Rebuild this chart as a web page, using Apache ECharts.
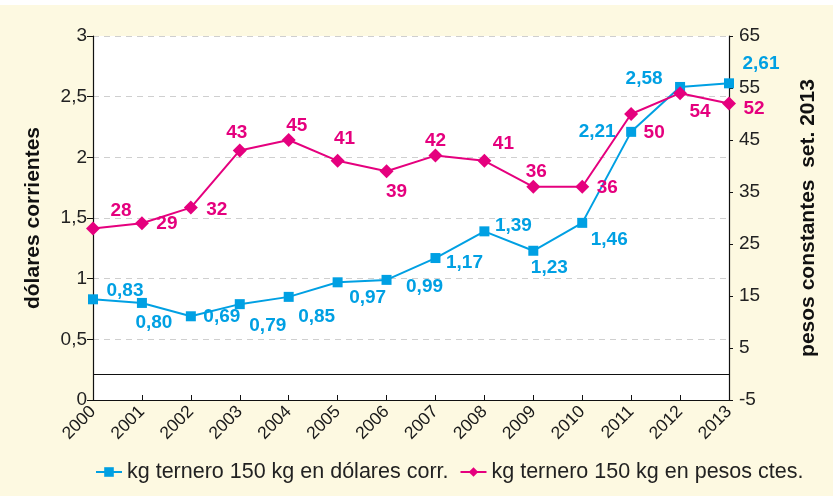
<!DOCTYPE html>
<html>
<head>
<meta charset="utf-8">
<script src="https://cdn.jsdelivr.net/npm/echarts@6/dist/echarts.min.js"></script>
<style>
html,body{margin:0;padding:0;background:#fdf9e1;}
#chart{width:833px;height:496px;}
</style>
</head>
<body>
<div id="chart"></div>
<script>
const years = ['2000','2001','2002','2003','2004','2005','2006','2007','2008','2009','2010','2011','2012','2013'];
const usdValues = [0.83,0.80,0.69,0.79,0.85,0.97,0.99,1.17,1.39,1.23,1.46,2.21,2.58,2.61];
const pesosValues = [28,29,32,43,45,41,39,42,41,36,36,50,54,52];
const usdSeriesName = 'kg ternero 150 kg en dólares corr.';
const pesosSeriesName = 'kg ternero 150 kg en pesos ctes.';
const leftAxisName = 'dólares corrientes';
const rightAxisName = 'pesos constantes  set. 2013';

// label placement offsets (styling only)
const usdLabelOffsets = [[32,-9],[12,20],[31,0],[28,22],[28,20],[30,15],[38,7],[29,5],[29,-6],[16,17],[27,17],[-34,0],[-36,-8],[32,-20]];
const pesosLabelOffsets = [[28,-18],[25,1],[26,2],[-3,-18],[8,-14],[7,-22],[10,21],[0,-15],[19,-17],[3,-15],[25,1],[23,19],[20,19],[25,5]];

const BLUE = '#00a0e3';
const PINK = '#e5007e';
const FONT = '"Liberation Sans", Arial, sans-serif';

const chart = echarts.init(document.getElementById('chart'));
const fmtComma = v => String(v).replace('.', ',');

chart.setOption({
  backgroundColor: '#fdf9e1',
  textStyle: {fontFamily: FONT},
  animation: false,
  graphic: [{type:'rect', shape:{x:0,y:0,width:833,height:5}, style:{fill:'#ffffff'}, silent:true}],
  grid: {left: 93, right: 104, top: 36, bottom: 96, show: true, backgroundColor: '#ffffff', borderWidth: 0},
  legend: {
    bottom: 8, left: 90,
    itemWidth: 26, itemHeight: 12, itemGap: 11,
    textStyle: {fontSize: 21.5, color: '#222', fontFamily: FONT},
    data: [usdSeriesName, pesosSeriesName]
  },
  xAxis: {
    type: 'category', data: years, boundaryGap: false,
    axisLine: {lineStyle: {color: '#111', width: 1.2}},
    axisTick: {inside: true, length: 5, lineStyle: {color: '#111'}},
    axisLabel: {rotate: 45, fontSize: 17.5, color: '#1a1a1a', margin: 9},
    splitLine: {show: false}
  },
  yAxis: [{
    type: 'value', min: 0, max: 3, interval: 0.5, position: 'left',
    name: leftAxisName, nameLocation: 'middle', nameGap: 49, nameRotate: 90,
    nameTextStyle: {fontSize: 21, fontWeight: 'bold', color: '#111'},
    axisLine: {show: true, lineStyle: {color: '#111', width: 1.2}},
    axisTick: {show: true, length: 6, lineStyle: {color: '#111'}},
    axisLabel: {fontSize: 19, color: '#222', margin: 6, formatter: fmtComma},
    splitLine: {show: true, lineStyle: {color: '#cfcfcf', type: [6,5], width: 1}}
  }, {
    type: 'value', min: -5, max: 65, interval: 10, position: 'right',
    name: rightAxisName, nameLocation: 'middle', nameGap: 69, nameRotate: 90,
    nameTextStyle: {fontSize: 21, fontWeight: 'bold', color: '#111'},
    axisLine: {show: true, lineStyle: {color: '#111', width: 1.2}},
    axisTick: {show: true, length: 4, lineStyle: {color: '#111'}},
    axisLabel: {fontSize: 19, color: '#222', margin: 10},
    splitLine: {show: false}
  }],
  series: [{
    name: usdSeriesName, type: 'line', yAxisIndex: 0,
    data: usdValues.map((v, i) => ({value: v, label: {offset: usdLabelOffsets[i]}})),
    symbol: 'rect', symbolSize: 10,
    lineStyle: {color: BLUE, width: 2},
    itemStyle: {color: BLUE},
    label: {show: true, position: 'inside', fontSize: 19, fontWeight: 'bold', color: BLUE,
      formatter: p => p.value.toFixed(2).replace('.', ',')},
    z: 3
  }, {
    name: pesosSeriesName, type: 'line', yAxisIndex: 1,
    data: pesosValues.map((v, i) => ({value: v, label: {offset: pesosLabelOffsets[i]}})),
    symbol: 'diamond', symbolSize: 14,
    lineStyle: {color: PINK, width: 2},
    itemStyle: {color: PINK},
    label: {show: true, position: 'inside', fontSize: 19, fontWeight: 'bold', color: PINK,
      formatter: p => String(p.value)},
    markLine: {silent: true, symbol: 'none', label: {show: false},
      lineStyle: {color: '#111', type: 'solid', width: 1},
      data: [{yAxis: 0}]},
    z: 4
  }]
});
</script>
</body>
</html>
